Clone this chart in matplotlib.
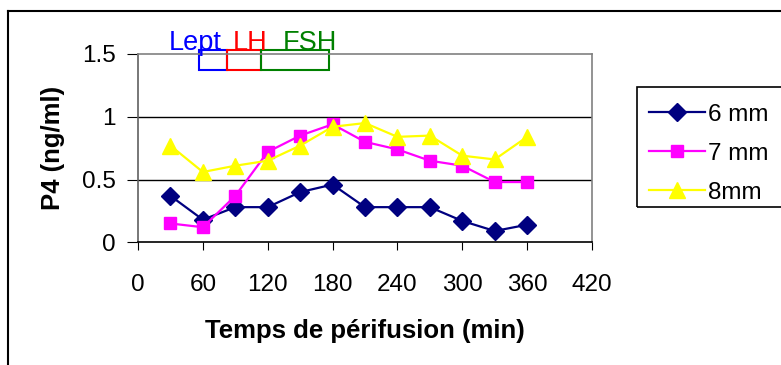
import matplotlib
matplotlib.use("Agg")
import matplotlib.pyplot as plt
from matplotlib.patches import Rectangle
from matplotlib.lines import Line2D

plt.rcParams['font.family'] = ['Liberation Sans', 'DejaVu Sans']

# données
temps = [30, 60, 90, 120, 150, 180, 210, 240, 270, 300, 330, 360]
p4_6mm = [0.37, 0.18, 0.28, 0.28, 0.40, 0.46, 0.28, 0.28, 0.28, 0.17, 0.09, 0.14]
p4_7mm = [0.15, 0.12, 0.37, 0.72, 0.85, 0.94, 0.80, 0.74, 0.65, 0.61, 0.48, 0.48]
p4_8mm = [0.77, 0.56, 0.61, 0.65, 0.77, 0.92, 0.95, 0.84, 0.85, 0.69, 0.66, 0.84]
labels = ["6 mm", "7 mm", "8mm"]

# périodes de stimulation (min)
periodes = ["Lept", "LH", "FSH"]
debut = [56, 82, 114]
fin = [82, 114, 177]
pos_texte = [53, 104, 159]
couleurs_per = ["blue", "red", "green"]

fig = plt.figure(figsize=(7.81, 3.65), dpi=100)
ax = fig.add_axes([138 / 781, 1 - 242.3 / 365, 454 / 781, 188.3 / 365])

ax.plot(temps, p4_6mm, color="#000080", marker="D", ms=9, lw=1.6, label=labels[0])
ax.plot(temps, p4_7mm, color="#FF00FF", marker="s", ms=8.5, lw=1.6, label=labels[1])
ax.plot(temps, p4_8mm, color="#FFFF00", marker="^", ms=11, lw=1.6, label=labels[2])

ax.set_xlim(0, 420)
ax.set_ylim(0, 1.5)
ax.set_xticks(range(0, 421, 60))
ax.set_yticks([0, 0.5, 1, 1.5])
ax.set_yticklabels(["0", "0.5", "1", "1.5"])
for y in [0.5, 1]:
    ax.axhline(y, color="black", lw=1, zorder=0)

ax.spines['top'].set_color("#808080")
ax.spines['right'].set_color("#808080")
ax.spines['left'].set_color("#606060")
ax.spines['bottom'].set_color("black")
for s in ax.spines.values():
    s.set_linewidth(1.2)
ax.tick_params(axis='x', direction='out', length=6, pad=17, labelsize=17.5)
ax.tick_params(axis='y', direction='out', length=8, pad=8, labelsize=17.5)

ax.set_xlabel("Temps de périfusion (min)", fontsize=18.5, fontweight="bold", labelpad=16.5)
ax.set_ylabel("P4 (ng/ml)", fontsize=18.5, fontweight="bold", labelpad=12)

for nom, d, f, xt, c in zip(periodes, debut, fin, pos_texte, couleurs_per):
    ax.add_patch(Rectangle((d, 1.37), f - d, 0.16, fill=False, edgecolor=c, lw=1.5, clip_on=False))
    ax.text(xt, 1.535, nom, color=c, fontsize=19.5, ha="center", va="baseline")

# cadre extérieur
fig.add_artist(Line2D([8 / 781, 8 / 781], [0, 1 - 11 / 365], transform=fig.transFigure, color="black", lw=1.5))
fig.add_artist(Line2D([8 / 781, 1], [1 - 11 / 365, 1 - 11 / 365], transform=fig.transFigure, color="black", lw=1.5))

# légende
fig.add_artist(Rectangle((637 / 781, 1 - 207 / 365), 200 / 781, 120 / 365, transform=fig.transFigure,
                         fill=False, edgecolor="black", lw=1.2, clip_on=False))
leg = fig.legend(loc="upper left", bbox_to_anchor=(627 / 781, 1 - 82 / 365), frameon=False,
                 fontsize=17.5, handlelength=2.3, handletextpad=0.15, labelspacing=0.7)

fig.savefig("out.png", dpi=100)
